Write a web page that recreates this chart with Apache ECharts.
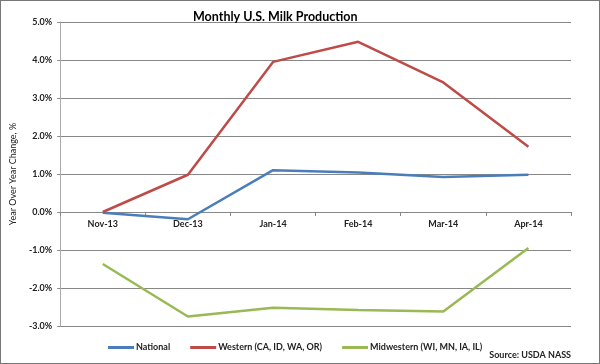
<!DOCTYPE html>
<html><head><meta charset="utf-8">
<script src="https://cdn.jsdelivr.net/npm/echarts@6/dist/echarts.min.js"></script>
<style>html,body{margin:0;padding:0;background:#fff}#c{width:600px;height:364px;box-sizing:border-box;border:1px solid #777}</style>
</head><body><div id="c"></div>
<script>
const categories = ['Nov-13','Dec-13','Jan-14','Feb-14','Mar-14','Apr-14'];
const national = [-0.02, -0.19, 1.10, 1.04, 0.92, 0.98];
const western = [0.00, 0.98, 3.95, 4.48, 3.41, 1.72];
const midwestern = [-1.37, -2.75, -2.52, -2.58, -2.62, -0.95];
const yTicks = [-3, -2, -1, 0, 1, 2, 3, 4, 5];

const chart = echarts.init(document.getElementById('c'), null, {renderer:'canvas'});
const font = 'Lato, "Open Sans", sans-serif';
const gridBottom = 37;
chart.setOption({
  animation:false,
  title:{text:'Monthly U.S. Milk Production', left:187, top:4,
    textStyle:{fontFamily:font, fontSize:12.5, fontWeight:'bold', color:'#000'}},
  grid:{left:52, right:28, top:21, bottom:gridBottom, containLabel:false},
  xAxis:{type:'category', data:categories, boundaryGap:true, position:'bottom', offset:0,
    axisLine:{onZero:false, lineStyle:{color:'#888', width:1}},
    axisTick:{show:true, length:4, lineStyle:{color:'#888'}},
    axisLabel:{fontFamily:font, fontSize:9, fontWeight:'bold', color:'#222', margin:8},
    splitLine:{show:false}},
  yAxis:{type:'value', min:-3, max:5, interval:1,
    name:'Year Over Year Change, %', nameLocation:'middle', nameGap:38,
    nameTextStyle:{fontFamily:font, fontSize:9, color:'#222'},
    axisLine:{show:true, lineStyle:{color:'#aaa', width:1}},
    axisTick:{show:true, length:3, lineStyle:{color:'#888'}},
    axisLabel:{fontFamily:font, fontSize:9, fontWeight:'bold', color:'#222', margin:8,
      formatter:v=>yTicks.includes(v)? v.toFixed(1)+'%' : ''},
    splitLine:{show:true, lineStyle:{color:'#888', width:1}}},
  legend:{top:337, left:102, itemWidth:26, itemHeight:3, itemGap:20, icon:'rect',
    textStyle:{fontFamily:font, fontSize:9, fontWeight:'bold', color:'#222', padding:[0,0,0,-3]},
    data:['National','Western (CA, ID, WA, OR)','Midwestern (WI, MN, IA, IL)']},
  graphic:[{type:'text', right:28, top:350,
    style:{text:'Source: USDA NASS', font:'bold 9px '+font, fill:'#222'}}],
  series:[
    {name:'National', type:'line', data:national, symbol:'none', lineStyle:{color:'#4a7ebb', width:2.5}, itemStyle:{color:'#4a7ebb'}},
    {name:'Western (CA, ID, WA, OR)', type:'line', data:western, symbol:'none', lineStyle:{color:'#be4b48', width:2.5}, itemStyle:{color:'#be4b48'}},
    {name:'Midwestern (WI, MN, IA, IL)', type:'line', data:midwestern, symbol:'none', lineStyle:{color:'#98b954', width:2.5}, itemStyle:{color:'#98b954'}}
  ]
});
// Move the category axis to the zero line of the value scale
const zeroY = chart.convertToPixel({yAxisIndex:0}, 0);
const bottomY = chart.getHeight() - gridBottom;
chart.setOption({xAxis:{offset: zeroY - bottomY}});
</script></body></html>
